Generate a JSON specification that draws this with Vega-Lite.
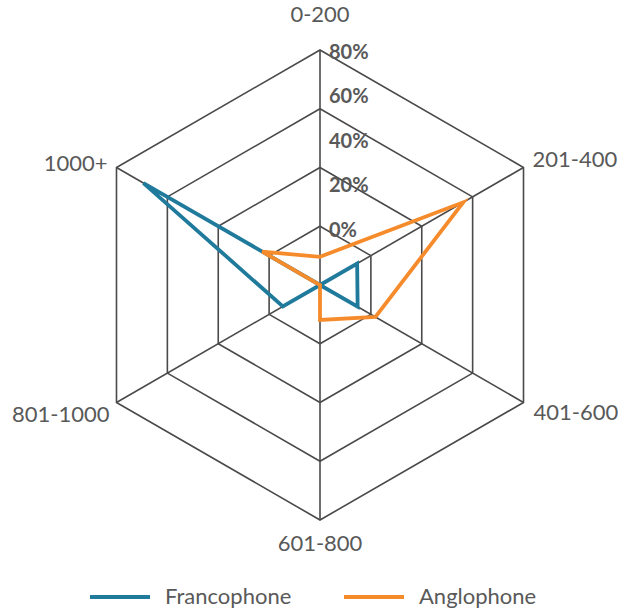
{
  "$schema": "https://vega.github.io/schema/vega-lite/v6.json",
  "width": 618,
  "height": 612,
  "autosize": "none",
  "padding": 0,
  "background": "white",
  "config": {
    "view": {"stroke": null},
    "text": {"font": "Lato", "color": "#595959"}
  },
  "datasets": {
    "cats": [
      {"cat": "0-200", "k": 0},
      {"cat": "201-400", "k": 1},
      {"cat": "401-600", "k": 2},
      {"cat": "601-800", "k": 3},
      {"cat": "801-1000", "k": 4},
      {"cat": "1000+", "k": 5}
    ],
    "shares": [
      {"cat": "0-200", "k": 0, "group": "Francophone", "share": 0},
      {"cat": "201-400", "k": 1, "group": "Francophone", "share": 0.146},
      {"cat": "401-600", "k": 2, "group": "Francophone", "share": 0.148},
      {"cat": "601-800", "k": 3, "group": "Francophone", "share": 0},
      {"cat": "801-1000", "k": 4, "group": "Francophone", "share": 0.146},
      {"cat": "1000+", "k": 5, "group": "Francophone", "share": 0.694},
      {"cat": "0-200", "k": 0, "group": "Anglophone", "share": 0.096},
      {"cat": "201-400", "k": 1, "group": "Anglophone", "share": 0.563},
      {"cat": "401-600", "k": 2, "group": "Anglophone", "share": 0.218},
      {"cat": "601-800", "k": 3, "group": "Anglophone", "share": 0.119},
      {"cat": "801-1000", "k": 4, "group": "Anglophone", "share": 0},
      {"cat": "1000+", "k": 5, "group": "Anglophone", "share": 0.227}
    ],
    "rings": [
      {"ring": 0.2, "ks": [0, 1, 2, 3, 4, 5]},
      {"ring": 0.4, "ks": [0, 1, 2, 3, 4, 5]},
      {"ring": 0.6, "ks": [0, 1, 2, 3, 4, 5]},
      {"ring": 0.8, "ks": [0, 1, 2, 3, 4, 5]}
    ],
    "ticks": [
      {"tick": 0},
      {"tick": 0.2},
      {"tick": 0.4},
      {"tick": 0.6},
      {"tick": 0.8}
    ]
  },
  "layer": [
    {
      "layer": [
        {
          "data": {"name": "rings"},
          "transform": [
            {"flatten": ["ks"], "as": ["k"]},
            {"calculate": "datum.ring * sin(datum.k * PI / 3)", "as": "px"},
            {"calculate": "datum.ring * cos(datum.k * PI / 3)", "as": "py"}
          ],
          "mark": {"type": "line", "interpolate": "linear-closed", "color": "#4a4a4a", "strokeWidth": 1.6},
          "encoding": {
            "x": {"field": "px", "type": "quantitative", "scale": {"domain": [-1.0894, 1.0145], "nice": false, "zero": false}, "axis": null},
            "y": {"field": "py", "type": "quantitative", "scale": {"domain": [-1.1132, 0.9702], "nice": false, "zero": false}, "axis": null},
            "detail": {"field": "ring", "type": "nominal"},
            "order": {"field": "k", "type": "quantitative"}
          }
        },
        {
          "data": {"name": "cats"},
          "transform": [
            {"calculate": "0.8 * sin(datum.k * PI / 3)", "as": "ox"},
            {"calculate": "0.8 * cos(datum.k * PI / 3)", "as": "oy"},
            {"calculate": "0", "as": "cx"}
          ],
          "layer": [
            {
              "mark": {"type": "rule", "color": "#4a4a4a", "strokeWidth": 1.6},
              "encoding": {
                "x": {"field": "cx", "type": "quantitative"},
                "y": {"field": "cx", "type": "quantitative"},
                "x2": {"field": "ox"},
                "y2": {"field": "oy"}
              }
            },
            {
              "transform": [{"filter": "datum.k == 0"}],
              "mark": {"type": "text", "fontSize": 22, "align": "center", "baseline": "middle", "dy": -35},
              "encoding": {"x": {"field": "ox", "type": "quantitative"}, "y": {"field": "oy", "type": "quantitative"}, "text": {"field": "cat", "type": "nominal"}}
            },
            {
              "transform": [{"filter": "datum.k == 1"}],
              "mark": {"type": "text", "fontSize": 22, "align": "left", "baseline": "middle", "dx": 9, "dy": -7},
              "encoding": {"x": {"field": "ox", "type": "quantitative"}, "y": {"field": "oy", "type": "quantitative"}, "text": {"field": "cat", "type": "nominal"}}
            },
            {
              "transform": [{"filter": "datum.k == 2"}],
              "mark": {"type": "text", "fontSize": 22, "align": "left", "baseline": "middle", "dx": 10, "dy": 11},
              "encoding": {"x": {"field": "ox", "type": "quantitative"}, "y": {"field": "oy", "type": "quantitative"}, "text": {"field": "cat", "type": "nominal"}}
            },
            {
              "transform": [{"filter": "datum.k == 3"}],
              "mark": {"type": "text", "fontSize": 22, "align": "center", "baseline": "middle", "dy": 24},
              "encoding": {"x": {"field": "ox", "type": "quantitative"}, "y": {"field": "oy", "type": "quantitative"}, "text": {"field": "cat", "type": "nominal"}}
            },
            {
              "transform": [{"filter": "datum.k == 4"}],
              "mark": {"type": "text", "fontSize": 22, "align": "right", "baseline": "middle", "dx": -7, "dy": 13},
              "encoding": {"x": {"field": "ox", "type": "quantitative"}, "y": {"field": "oy", "type": "quantitative"}, "text": {"field": "cat", "type": "nominal"}}
            },
            {
              "transform": [{"filter": "datum.k == 5"}],
              "mark": {"type": "text", "fontSize": 22, "align": "right", "baseline": "middle", "dx": -9, "dy": -3},
              "encoding": {"x": {"field": "ox", "type": "quantitative"}, "y": {"field": "oy", "type": "quantitative"}, "text": {"field": "cat", "type": "nominal"}}
            }
          ]
        },
        {
          "data": {"name": "shares"},
          "transform": [
            {"calculate": "datum.share * sin(datum.k * PI / 3)", "as": "sx"},
            {"calculate": "datum.share * cos(datum.k * PI / 3)", "as": "sy"}
          ],
          "mark": {"type": "line", "interpolate": "linear-closed", "strokeWidth": 3.8},
          "encoding": {
            "x": {"field": "sx", "type": "quantitative"},
            "y": {"field": "sy", "type": "quantitative"},
            "color": {
              "field": "group",
              "type": "nominal",
              "scale": {"domain": ["Francophone", "Anglophone"], "range": ["#1f7a9c", "#f68b2b"]},
              "legend": {
                "title": null,
                "orient": "none",
                "legendX": 88,
                "legendY": 565,
                "direction": "horizontal",
                "symbolType": "stroke",
                "symbolSize": 3600,
                "symbolStrokeWidth": 4,
                "labelFont": "Lato",
                "labelFontSize": 22,
                "labelColor": "#595959",
                "labelOffset": 13,
                "columnPadding": 44
              }
            },
            "order": {"field": "k", "type": "quantitative"}
          }
        }
      ]
    },
    {
      "data": {"name": "ticks"},
      "transform": [{"calculate": "0", "as": "cx"}],
      "mark": {"type": "text", "fontSize": 20, "fontWeight": "bold", "align": "left", "baseline": "middle", "dx": 9},
      "encoding": {
        "x": {"field": "cx", "type": "quantitative"},
        "y": {"field": "tick", "type": "quantitative", "scale": {"domain": [0, 0.8], "range": [230.7, 52.7]}, "axis": null},
        "text": {"field": "tick", "type": "quantitative", "format": ".0%"}
      }
    }
  ],
  "resolve": {"scale": {"y": "independent"}}
}
